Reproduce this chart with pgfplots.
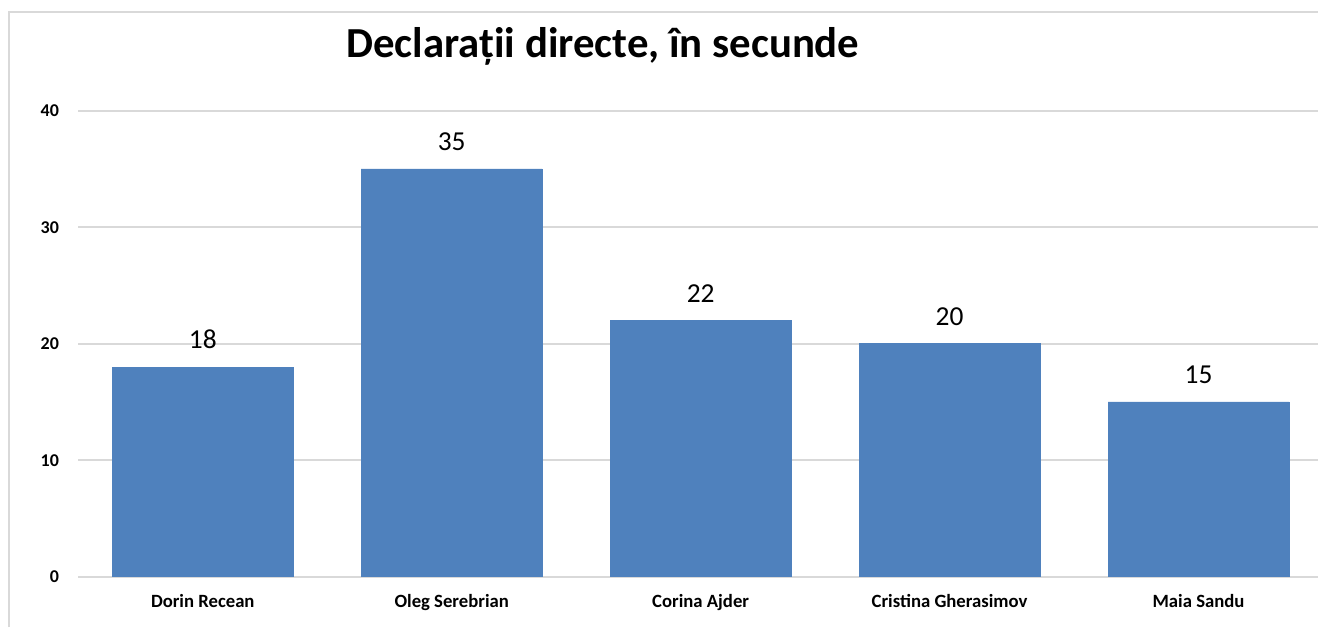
\documentclass[border=0pt]{standalone}
\usepackage{fontspec}
\setmainfont{Carlito}
\usepackage{pgfplots}
\pgfplotsset{compat=1.18}
\definecolor{barblue}{RGB}{79,129,189}
\definecolor{gridgray}{RGB}{217,217,217}
\begin{document}
\begin{tikzpicture}[x=1pt,y=1pt]
\useasboundingbox (0,0) rectangle (659,-313.5);
\draw[gridgray, line width=0.8pt] (4.5,-313.5) -- (4.5,-6) -- (659,-6);
\node[anchor=base, font=\bfseries\fontsize{21.4}{21.4}\selectfont, inner sep=0pt] at (301.5,-28.5) {Declarații directe, în secunde};
\begin{axis}[
  at={(39.15pt,-288.35pt)}, anchor=south west,
  scale only axis,
  width=619.85pt, height=233pt,
  ybar, bar width=90.5pt,
  xmin=-0.5, xmax=4.48,
  ymin=0, ymax=40,
  ytick={0,10,20,30,40},
  xtick=data,
  xticklabels={Dorin Recean, Oleg Serebrian, Corina Ajder, Cristina Gherasimov, Maia Sandu},
  axis line style={draw=none},
  major tick length=0pt,
  ymajorgrids, grid style={gridgray, line width=0.8pt},
  axis on top=false,
  /pgf/number format/assume math mode=true,
  yticklabel style={font=\bfseries\fontsize{9}{9}\selectfont, inner sep=0pt, xshift=-9.5pt},
  xticklabel style={font=\bfseries\fontsize{9.35}{9.35}\selectfont, anchor=base, inner sep=0pt, yshift=-15.3pt},
  nodes near coords,
  nodes near coords style={font=\fontsize{13.7}{13.7}\selectfont, inner sep=0pt, yshift=9pt, black},
  clip=false,
]
\addplot[fill=barblue, draw=barblue] coordinates {(0,18) (1,35) (2,22) (3,20) (4,15)};
\end{axis}
\end{tikzpicture}
\end{document}
